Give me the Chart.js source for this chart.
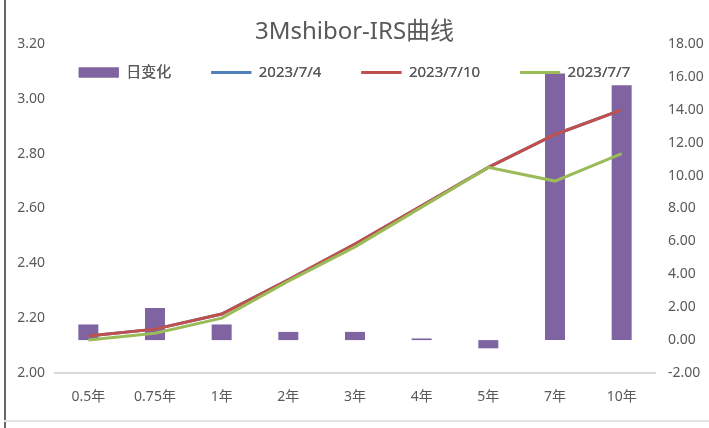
<!DOCTYPE html>
<html>
<head>
<meta charset="utf-8">
<script src="https://cdn.jsdelivr.net/npm/chart.js@4"></script>
<style>
  html, body { margin: 0; padding: 0; background: #fff; }
  #wrap { position: relative; width: 709px; height: 428px; }
  #frameL { position: absolute; left: 4px; top: 0; width: 2px; height: 428px; background: #666; }
  #frameB { position: absolute; left: 4px; top: 420px; width: 705px; height: 2px; background: #e3e3e3; }
</style>
</head>
<body>
<div id="wrap">
  <canvas id="myChart" width="709" height="428"></canvas>
  <div id="frameL"></div>
  <div id="frameB"></div>
</div>
<script>
const labels = ["0.5年", "0.75年", "1年", "2年", "3年", "4年", "5年", "7年", "10年"];
// 日变化 (bp), right axis
const dailyChange = [0.95, 1.95, 0.95, 0.5, 0.5, 0.1, -0.5, 16.2, 15.5];
// curves, left axis
const curve0704 = [2.135, 2.16, 2.215, 2.34, 2.47, 2.61, 2.75, 2.87, 2.96];
const curve0710 = [2.135, 2.16, 2.215, 2.34, 2.47, 2.61, 2.75, 2.87, 2.96];
const curve0707 = [2.12, 2.145, 2.2, 2.335, 2.46, 2.605, 2.75, 2.70, 2.80];

const grey = "#595959";
const font = "'Noto Sans', 'Noto Sans CJK SC', sans-serif";

// legend sits inside the plot area (like the excel chart), so it takes no layout space
const legendOverlay = {
  id: "legendOverlay",
  beforeLayout(chart) {
    const lg = chart.legend;
    if (lg && !lg._overlay) {
      const fit = lg.fit;
      lg.fit = function () {
        fit.call(this);
        this._realHeight = this.height;
        this.height = 0;
      };
      lg._overlay = true;
    }
  },
  afterLayout(chart) {
    const lg = chart.legend;
    lg.top = 25;
    lg.bottom = lg.top + (lg._realHeight || 60);
    lg.height = lg.bottom - lg.top;
  },
  afterDatasetsDraw(chart) {
    // put the legend over the bars
    chart.legend.draw();
  },
};

const ctx = document.getElementById("myChart").getContext("2d");
const chart = new Chart(ctx, {
  plugins: [legendOverlay],
  data: {
    labels: labels,
    datasets: [
      {
        type: "bar",
        label: "日变化",
        data: dailyChange,
        yAxisID: "y1",
        backgroundColor: "#8064A2",
        barPercentage: 0.6,
        categoryPercentage: 0.5,
        pointStyle: "rect",
        order: 3,
      },
      {
        type: "line",
        label: "2023/7/4",
        data: curve0704,
        yAxisID: "y",
        borderColor: "#4F81BD",
        backgroundColor: "#4F81BD",
        borderWidth: 3,
        pointRadius: 0,
        pointStyle: "line",
        order: 2,
      },
      {
        type: "line",
        label: "2023/7/10",
        data: curve0710,
        yAxisID: "y",
        borderColor: "#C0504D",
        backgroundColor: "#C0504D",
        borderWidth: 3,
        pointRadius: 0,
        pointStyle: "line",
        order: 1,
      },
      {
        type: "line",
        label: "2023/7/7",
        data: curve0707,
        yAxisID: "y",
        borderColor: "#9BBB59",
        backgroundColor: "#9BBB59",
        borderWidth: 3,
        pointRadius: 0,
        pointStyle: "line",
        order: 0,
      },
    ],
  },
  options: {
    responsive: false,
    animation: false,
    layout: { padding: 0 },
    plugins: {
      title: {
        display: true,
        text: "3Mshibor-IRS曲线",
        color: grey,
        font: { family: font, size: 24, weight: "normal", lineHeight: 1 },
        padding: { top: 20, bottom: 0 },
      },
      legend: {
        position: "top",
        align: "center",
        labels: {
          color: grey,
          font: { family: font, size: 15 },
          usePointStyle: true,
          pointStyleWidth: 40,
          boxHeight: 10,
          padding: 40,
          sort: (a, b) => a.datasetIndex - b.datasetIndex,
        },
      },
      tooltip: { enabled: false },
    },
    scales: {
      x: {
        grid: { display: false },
        border: { display: true, color: "#d9d9d9", width: 2 },
        ticks: { color: grey, font: { family: font, size: 14 }, padding: 8 },
        afterFit: (s) => { s.height = 55; },
      },
      y: {
        position: "left",
        min: 2,
        max: 3.2,
        grid: { display: false, drawTicks: false },
        border: { display: false },
        ticks: {
          stepSize: 0.2,
          color: grey,
          font: { family: font, size: 14 },
          padding: 10,
          callback: (v) => v.toFixed(2),
        },
        afterFit: (s) => { s.width = 55; },
      },
      y1: {
        position: "right",
        min: -2,
        max: 18,
        grid: { display: false, drawTicks: false },
        border: { display: false },
        ticks: {
          stepSize: 2,
          color: grey,
          font: { family: font, size: 14 },
          padding: 13,
          callback: (v) => v.toFixed(2),
        },
        afterFit: (s) => { s.width = 54; },
      },
    },
  },
});
</script>
</body>
</html>
